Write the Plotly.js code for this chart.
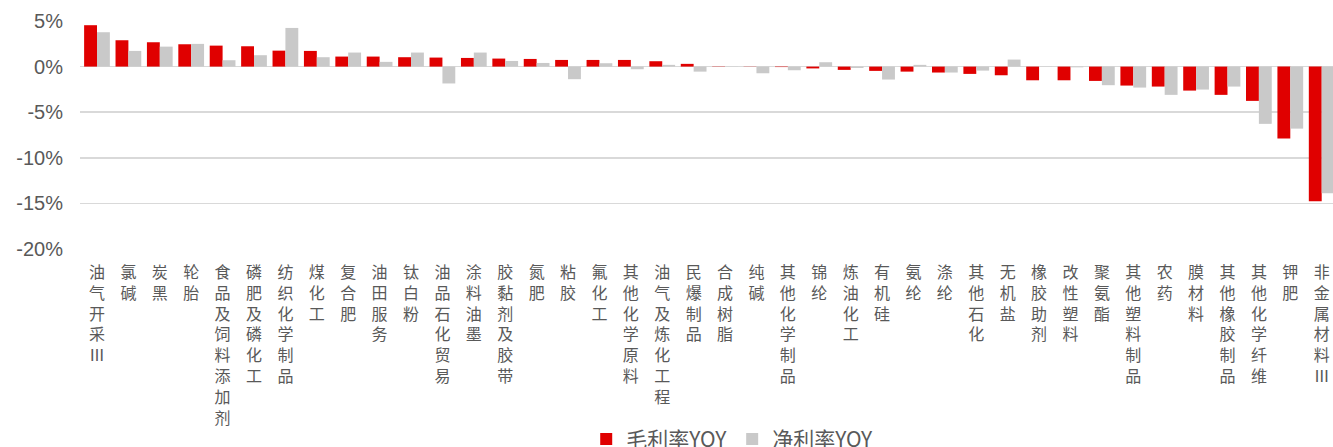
<!DOCTYPE html>
<html>
<head>
<meta charset="utf-8">
<script src="https://cdn.plot.ly/plotly-3.0.1.min.js"></script>
<style>
html,body{margin:0;padding:0;background:#fff;overflow:hidden;}
#chart{width:1333px;height:447px;}
</style>
</head>
<body>
<div id="chart"></div>
<script>
const categories = [
  "油气开采Ⅲ","氯碱","炭黑","轮胎","食品及饲料添加剂","磷肥及磷化工","纺织化学制品","煤化工","复合肥","油田服务",
  "钛白粉","油品石化贸易","涂料油墨","胶黏剂及胶带","氮肥","粘胶","氟化工","其他化学原料","油气及炼化工程","民爆制品",
  "合成树脂","纯碱","其他化学制品","锦纶","炼油化工","有机硅","氨纶","涤纶","其他石化","无机盐",
  "橡胶助剂","改性塑料","聚氨酯","其他塑料制品","农药","膜材料","其他橡胶制品","其他化学纤维","钾肥","非金属材料Ⅲ"
];
// 毛利率YOY (%)
const grossMarginYoy = [
  4.54, 2.89, 2.67, 2.45, 2.30, 2.23, 1.75, 1.72, 1.10, 1.10,
  1.03, 0.99, 0.95, 0.88, 0.84, 0.73, 0.73, 0.73, 0.59, 0.30,
  0.03, -0.02, -0.05, -0.20, -0.36, -0.47, -0.55, -0.65, -0.80, -0.95,
  -1.50, -1.50, -1.57, -2.08, -2.19, -2.63, -3.10, -3.76, -7.89, -14.76
];
// 净利率YOY (%)
const netMarginYoy = [
  3.77, 1.72, 2.19, 2.49, 0.70, 1.25, 4.24, 1.03, 1.54, 0.52,
  1.54, -1.85, 1.54, 0.62, 0.40, -1.38, 0.37, -0.29, 0.19, -0.55,
  0.02, -0.73, -0.40, 0.48, -0.15, -1.42, 0.19, -0.65, -0.44, 0.77,
  0.02, -0.08, -2.04, -2.30, -3.10, -2.52, -2.19, -6.28, -6.80, -13.88
];
const seriesNames = ["毛利率YOY", "净利率YOY"];
const yTickVals = [5, 0, -5, -10, -15, -20];
const yTickText = ["5%", "0%", "-5%", "-10%", "-15%", "-20%"];

const vertLabels = categories.map(c => Array.from(c).join("<br>"));

const traces = [
  {type: "bar", name: seriesNames[0], x: vertLabels, y: grossMarginYoy,
   marker: {color: "#E00000", line: {width: 0}}},
  {type: "bar", name: seriesNames[1], x: vertLabels, y: netMarginYoy,
   marker: {color: "#C9C9C9", line: {width: 0}}}
];

const layout = {
  width: 1333, height: 447,
  margin: {l: 80, r: 0, t: 21, b: 198, autoexpand: false},
  paper_bgcolor: "#fff", plot_bgcolor: "#fff",
  barmode: "group", bargap: 0.18, bargroupgap: 0,
  showlegend: true,
  legend: {orientation: "h", x: 0.404, xanchor: "left", y: -0.835, yanchor: "middle",
           font: {family: "Noto Sans CJK SC", size: 21, color: "#595959"},
           itemclick: false, traceorder: "normal"},
  xaxis: {type: "category", range: [-0.541, 39.36], showgrid: false, zeroline: false,
          showline: false, ticks: "", tickangle: 0, ticklabelstandoff: 12,
          tickfont: {family: "Noto Sans CJK SC", size: 16, color: "#595959"}},
  yaxis: {range: [-20, 5], tickvals: yTickVals, ticktext: yTickText,
          showgrid: true, gridcolor: "#D9D9D9", gridwidth: 1.5,
          zeroline: true, zerolinecolor: "#D9D9D9", zerolinewidth: 1.5,
          showline: false, ticks: "", ticklabelstandoff: 16,
          tickfont: {family: "Liberation Sans, Arial", size: 20, color: "#595959"}}
};

Plotly.newPlot("chart", traces, layout, {staticPlot: true, displayModeBar: false});
</script>
</body>
</html>
